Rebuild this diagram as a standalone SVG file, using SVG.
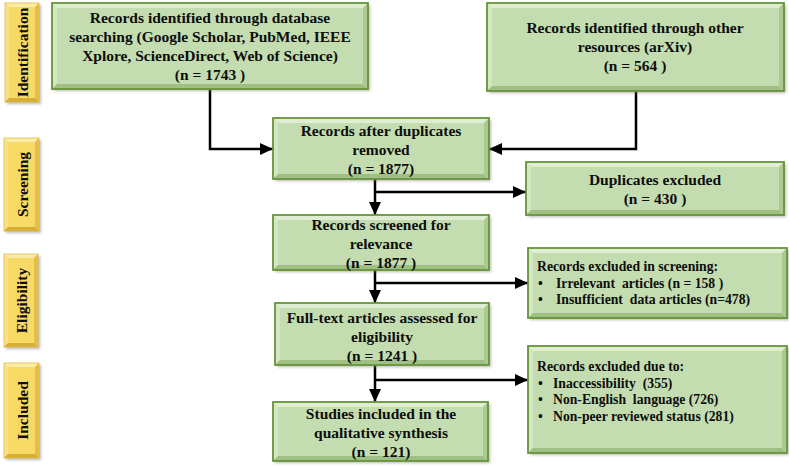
<svg xmlns="http://www.w3.org/2000/svg" width="789" height="466" viewBox="0 0 789 466">
<defs>
<filter id="blur" x="-10%" y="-10%" width="120%" height="120%"><feGaussianBlur stdDeviation="1.5"/></filter>
<marker id="ah" markerUnits="userSpaceOnUse" markerWidth="13" markerHeight="12" refX="13" refY="6" orient="auto"><path d="M0,0 L13,6 L0,12 z" fill="#000"/></marker>
<style>
.sh{fill:#7f7f7f;opacity:.55;filter:url(#blur)}
.gf{fill:#c4ddb0}
.gt{fill:#dfeed3}
.gl{fill:#d3e7c3}
.gb{fill:#9fc082}
.gr{fill:#abca8f}
.go{fill:none;stroke:#66943a;stroke-width:1.8}
.yf{fill:#f7d966}
.yt{fill:#fceba6}
.yl{fill:#fae08a}
.yb{fill:#d6ae36}
.yr{fill:#e3bf48}
.yo{fill:none;stroke:#e2bc45;stroke-width:.8}
text{font-family:"Liberation Serif","Times New Roman",serif;font-weight:bold;fill:#0d0d0d;white-space:pre}
.m{font-size:15.5px;text-anchor:middle}
.s{font-size:13.7px}
.lab{font-size:15.5px;text-anchor:middle}
.c{fill:none;stroke:#000;stroke-width:2.5}
</style>
</defs>

<g id="label-identification">
<rect class="sh" x="7" y="5" width="34" height="99"/>
<rect class="yf" x="5" y="3" width="34" height="99"/>
<polygon class="yt" points="5,3 39,3 35,7 9,7"/>
<polygon class="yl" points="5,3 9,7 9,98 5,102"/>
<polygon class="yb" points="5,102 9,98 35,98 39,102"/>
<polygon class="yr" points="39,3 39,102 35,98 35,7"/>
<rect class="yo" x="5" y="3" width="34" height="99"/>
<text class="lab" transform="translate(28,52.5) rotate(-90)">Identification</text>
</g>
<g id="label-screening">
<rect class="sh" x="6" y="140" width="35" height="93"/>
<rect class="yf" x="4" y="138" width="35" height="93"/>
<polygon class="yt" points="4,138 39,138 35,142 8,142"/>
<polygon class="yl" points="4,138 8,142 8,227 4,231"/>
<polygon class="yb" points="4,231 8,227 35,227 39,231"/>
<polygon class="yr" points="39,138 39,231 35,227 35,142"/>
<rect class="yo" x="4" y="138" width="35" height="93"/>
<text class="lab" transform="translate(27.5,184.5) rotate(-90)">Screening</text>
</g>
<g id="label-eligibility">
<rect class="sh" x="6" y="256" width="34" height="93"/>
<rect class="yf" x="4" y="254" width="34" height="93"/>
<polygon class="yt" points="4,254 38,254 34,258 8,258"/>
<polygon class="yl" points="4,254 8,258 8,343 4,347"/>
<polygon class="yb" points="4,347 8,343 34,343 38,347"/>
<polygon class="yr" points="38,254 38,347 34,343 34,258"/>
<rect class="yo" x="4" y="254" width="34" height="93"/>
<text class="lab" transform="translate(27,300.5) rotate(-90)">Eligibility</text>
</g>
<g id="label-included">
<rect class="sh" x="6" y="365" width="35" height="95"/>
<rect class="yf" x="4" y="363" width="35" height="95"/>
<polygon class="yt" points="4,363 39,363 35,367 8,367"/>
<polygon class="yl" points="4,363 8,367 8,454 4,458"/>
<polygon class="yb" points="4,458 8,454 35,454 39,458"/>
<polygon class="yr" points="39,363 39,458 35,454 35,367"/>
<rect class="yo" x="4" y="363" width="35" height="95"/>
<text class="lab" transform="translate(27.5,410.5) rotate(-90)">Included</text>
</g>

<g id="connectors">
<path class="c" d="M210,89 V149 H273" marker-end="url(#ah)"/>
<path class="c" d="M636,91 V149 H489" marker-end="url(#ah)"/>
<path class="c" d="M375,179 V215" marker-end="url(#ah)"/>
<path class="c" d="M375,192 H526" marker-end="url(#ah)"/>
<path class="c" d="M375,270 V303" marker-end="url(#ah)"/>
<path class="c" d="M375,283 H528" marker-end="url(#ah)"/>
<path class="c" d="M375,365 V402" marker-end="url(#ah)"/>
<path class="c" d="M375,380 H528" marker-end="url(#ah)"/>
</g>

<g id="db-records">
<rect class="sh" x="54" y="5" width="316" height="86"/>
<rect class="gf" x="52" y="3" width="316" height="86"/>
<polygon class="gt" points="52,3 368,3 363,8 57,8"/>
<polygon class="gl" points="52,3 57,8 57,84 52,89"/>
<polygon class="gb" points="52,89 57,84 363,84 368,89"/>
<polygon class="gr" points="368,3 368,89 363,84 363,8"/>
<rect class="go" x="52" y="3" width="316" height="86"/>
<text class="m" x="210" y="23">Records identified through database</text>
<text class="m" x="210" y="42">searching (Google Scholar, PubMed, IEEE</text>
<text class="m" x="210" y="61">Xplore, ScienceDirect, Web of Science)</text>
<text class="m" x="210" y="80">(n = 1743 )</text>
</g>

<g id="other-records">
<rect class="sh" x="489" y="5" width="297" height="88"/>
<rect class="gf" x="487" y="3" width="297" height="88"/>
<polygon class="gt" points="487,3 784,3 779,8 492,8"/>
<polygon class="gl" points="487,3 492,8 492,86 487,91"/>
<polygon class="gb" points="487,91 492,86 779,86 784,91"/>
<polygon class="gr" points="784,3 784,91 779,86 779,8"/>
<rect class="go" x="487" y="3" width="297" height="88"/>
<text class="m" x="635" y="33">Records identified through other</text>
<text class="m" x="635" y="52">resources (arXiv)</text>
<text class="m" x="635" y="71">(n = 564 )</text>
</g>

<g id="after-duplicates">
<rect class="sh" x="275" y="120" width="216" height="61"/>
<rect class="gf" x="273" y="118" width="216" height="61"/>
<polygon class="gt" points="273,118 489,118 484,123 278,123"/>
<polygon class="gl" points="273,118 278,123 278,174 273,179"/>
<polygon class="gb" points="273,179 278,174 484,174 489,179"/>
<polygon class="gr" points="489,118 489,179 484,174 484,123"/>
<rect class="go" x="273" y="118" width="216" height="61"/>
<text class="m" x="381" y="136">Records after duplicates</text>
<text class="m" x="381" y="155">removed</text>
<text class="m" x="381" y="174">(n = 1877)</text>
</g>

<g id="duplicates-excluded">
<rect class="sh" x="528" y="164" width="258" height="53"/>
<rect class="gf" x="526" y="162" width="258" height="53"/>
<polygon class="gt" points="526,162 784,162 779,167 531,167"/>
<polygon class="gl" points="526,162 531,167 531,210 526,215"/>
<polygon class="gb" points="526,215 531,210 779,210 784,215"/>
<polygon class="gr" points="784,162 784,215 779,210 779,167"/>
<rect class="go" x="526" y="162" width="258" height="53"/>
<text class="m" x="655" y="185">Duplicates excluded</text>
<text class="m" x="655" y="204">(n = 430 )</text>
</g>

<g id="screened">
<rect class="sh" x="275" y="217" width="216" height="55"/>
<rect class="gf" x="273" y="215" width="216" height="55"/>
<polygon class="gt" points="273,215 489,215 484,220 278,220"/>
<polygon class="gl" points="273,215 278,220 278,265 273,270"/>
<polygon class="gb" points="273,270 278,265 484,265 489,270"/>
<polygon class="gr" points="489,215 489,270 484,265 484,220"/>
<rect class="go" x="273" y="215" width="216" height="55"/>
<text class="m" x="381" y="230">Records screened for</text>
<text class="m" x="381" y="249">relevance</text>
<text class="m" x="381" y="268">(n = 1877 )</text>
</g>

<g id="excluded-screening">
<rect class="sh" x="530" y="250" width="259" height="70"/>
<rect class="gf" x="528" y="248" width="259" height="70"/>
<polygon class="gt" points="528,248 787,248 782,253 533,253"/>
<polygon class="gl" points="528,248 533,253 533,313 528,318"/>
<polygon class="gb" points="528,318 533,313 782,313 787,318"/>
<polygon class="gr" points="787,248 787,318 782,313 782,253"/>
<rect class="go" x="528" y="248" width="259" height="70"/>
<text class="s" x="537" y="271">Records excluded in screening:</text>
<text class="s" x="538" y="288">•</text>
<text class="s" x="556" y="288">Irrelevant  articles (n = 158 )</text>
<text class="s" x="538" y="304">•</text>
<text class="s" x="556" y="304">Insufficient  data articles (n=478)</text>
</g>

<g id="full-text">
<rect class="sh" x="277" y="305" width="214" height="62"/>
<rect class="gf" x="275" y="303" width="214" height="62"/>
<polygon class="gt" points="275,303 489,303 484,308 280,308"/>
<polygon class="gl" points="275,303 280,308 280,360 275,365"/>
<polygon class="gb" points="275,365 280,360 484,360 489,365"/>
<polygon class="gr" points="489,303 489,365 484,360 484,308"/>
<rect class="go" x="275" y="303" width="214" height="62"/>
<text class="m" x="382" y="323">Full-text articles assessed for</text>
<text class="m" x="382" y="342">eligibility</text>
<text class="m" x="382" y="361">(n = 1241 )</text>
</g>

<g id="excluded-due">
<rect class="sh" x="530" y="348" width="259" height="107"/>
<rect class="gf" x="528" y="346" width="259" height="107"/>
<polygon class="gt" points="528,346 787,346 782,351 533,351"/>
<polygon class="gl" points="528,346 533,351 533,448 528,453"/>
<polygon class="gb" points="528,453 533,448 782,448 787,453"/>
<polygon class="gr" points="787,346 787,453 782,448 782,351"/>
<rect class="go" x="528" y="346" width="259" height="107"/>
<text class="s" x="537" y="371">Records excluded due to:</text>
<text class="s" x="538" y="388">•</text>
<text class="s" x="553" y="388">Inaccessibility  (355)</text>
<text class="s" x="538" y="404">•</text>
<text class="s" x="553" y="404">Non-English  language (726)</text>
<text class="s" x="538" y="421">•</text>
<text class="s" x="553" y="421">Non-peer reviewed status (281)</text>
</g>

<g id="included-studies">
<rect class="sh" x="275" y="404" width="215" height="59"/>
<rect class="gf" x="273" y="402" width="215" height="59"/>
<polygon class="gt" points="273,402 488,402 483,407 278,407"/>
<polygon class="gl" points="273,402 278,407 278,456 273,461"/>
<polygon class="gb" points="273,461 278,456 483,456 488,461"/>
<polygon class="gr" points="488,402 488,461 483,456 483,407"/>
<rect class="go" x="273" y="402" width="215" height="59"/>
<text class="m" x="381" y="419">Studies included in the</text>
<text class="m" x="381" y="438">qualitative synthesis</text>
<text class="m" x="381" y="457">(n = 121)</text>
</g>
</svg>
